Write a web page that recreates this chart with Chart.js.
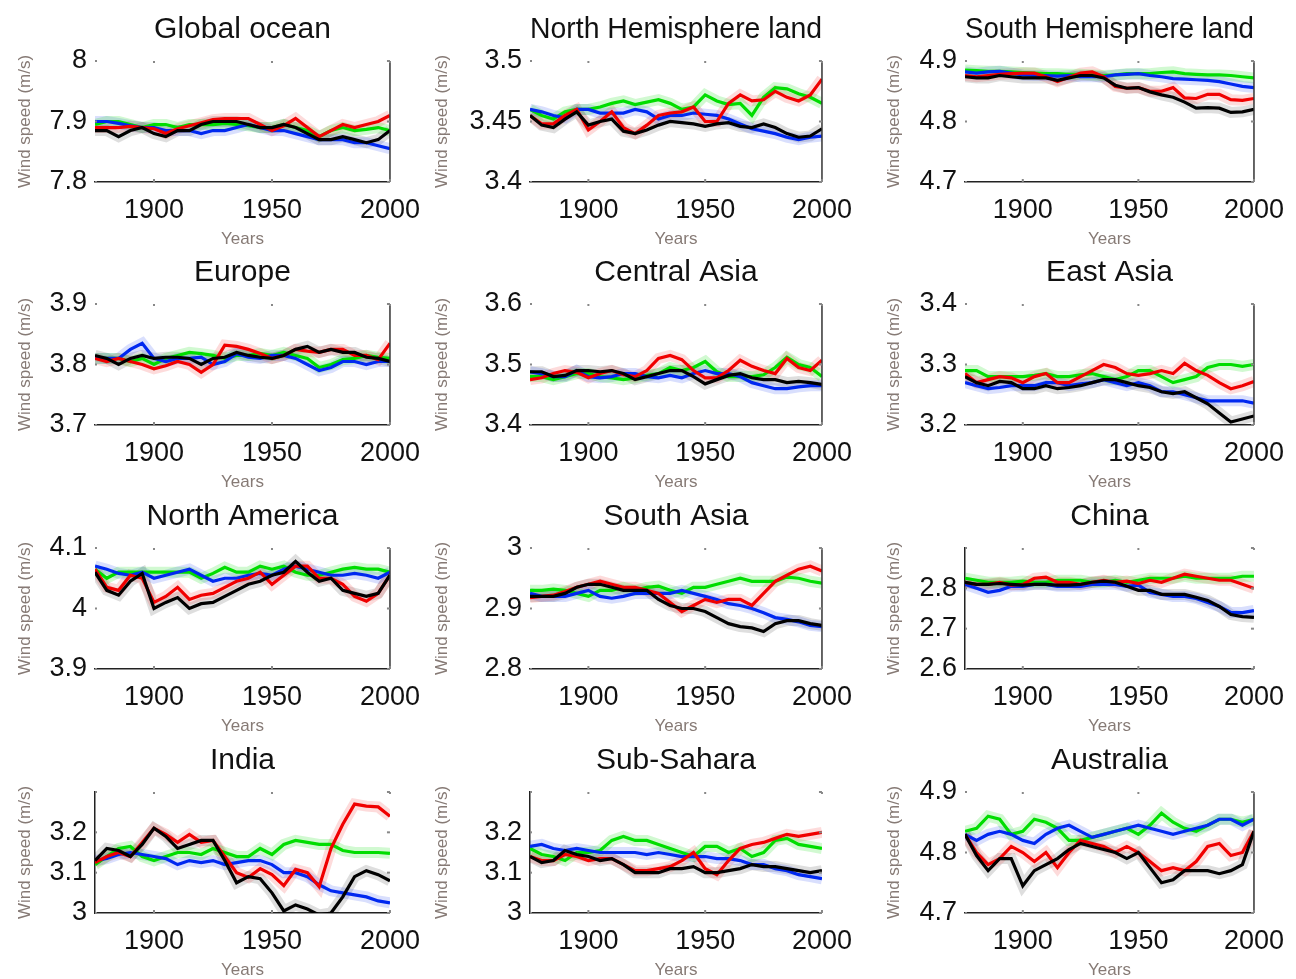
<!DOCTYPE html>
<html>
<head>
<meta charset="utf-8">
<script src="https://cdn.jsdelivr.net/npm/chart.js@4.4.0/dist/chart.umd.min.js"></script>
<style>
  html, body { margin: 0; padding: 0; background: #fff; overflow: hidden; }
  #wrap { position: relative; width: 1296px; height: 979px; }
  .panel { position: absolute; width: 432px; height: 250px; }
</style>
</head>
<body>
<div id="wrap"></div>
<script>
// x values shared by every panel
const years = [1875, 1880, 1885, 1890, 1895, 1900, 1905, 1910, 1915, 1920, 1925, 1930, 1935,
               1940, 1945, 1950, 1955, 1960, 1965, 1970, 1975, 1980, 1985, 1990, 1995, 2000];
const xTicks = [1900, 1950, 2000];

// Global ocean
const oceanGreen = [7.895, 7.9, 7.9, 7.895, 7.89, 7.895, 7.895, 7.89, 7.895, 7.895, 7.895, 7.897, 7.895, 7.893, 7.89, 7.89, 7.895, 7.89, 7.885, 7.875, 7.885, 7.89, 7.885, 7.887, 7.89, 7.885];
const oceanBlue  = [7.9, 7.9, 7.897, 7.893, 7.89, 7.89, 7.885, 7.885, 7.885, 7.88, 7.885, 7.885, 7.89, 7.895, 7.89, 7.885, 7.885, 7.88, 7.875, 7.87, 7.87, 7.87, 7.865, 7.865, 7.86, 7.855];
const oceanRed   = [7.89, 7.89, 7.89, 7.892, 7.89, 7.888, 7.88, 7.888, 7.893, 7.898, 7.903, 7.905, 7.905, 7.905, 7.895, 7.885, 7.893, 7.905, 7.89, 7.875, 7.885, 7.895, 7.89, 7.895, 7.9, 7.91];
const oceanBlack = [7.885, 7.885, 7.875, 7.885, 7.89, 7.88, 7.875, 7.885, 7.885, 7.895, 7.9, 7.9, 7.9, 7.895, 7.89, 7.89, 7.895, 7.89, 7.88, 7.87, 7.87, 7.875, 7.87, 7.865, 7.87, 7.885];

// North Hemisphere land
const nhGreen = [3.46, 3.455, 3.452, 3.458, 3.46, 3.46, 3.462, 3.465, 3.467, 3.464, 3.466, 3.468, 3.465, 3.46, 3.462, 3.472, 3.467, 3.464, 3.465, 3.455, 3.47, 3.478, 3.477, 3.473, 3.47, 3.465];
const nhBlue  = [3.46, 3.458, 3.455, 3.453, 3.46, 3.46, 3.457, 3.457, 3.457, 3.46, 3.458, 3.452, 3.455, 3.455, 3.457, 3.456, 3.455, 3.452, 3.448, 3.444, 3.442, 3.44, 3.437, 3.435, 3.437, 3.438];
const nhRed   = [3.455, 3.448, 3.448, 3.455, 3.46, 3.443, 3.45, 3.458, 3.445, 3.44, 3.447, 3.455, 3.457, 3.458, 3.462, 3.45, 3.45, 3.465, 3.472, 3.467, 3.468, 3.475, 3.47, 3.467, 3.472, 3.485];
const nhBlack = [3.455, 3.447, 3.445, 3.452, 3.458, 3.447, 3.45, 3.452, 3.442, 3.44, 3.443, 3.447, 3.45, 3.449, 3.448, 3.446, 3.448, 3.449, 3.446, 3.445, 3.448, 3.445, 3.44, 3.437, 3.438, 3.444];

// South Hemisphere land
const shGreen = [4.885, 4.884, 4.883, 4.883, 4.882, 4.881, 4.88, 4.879, 4.879, 4.878, 4.878, 4.877, 4.876, 4.877, 4.879, 4.879, 4.879, 4.881, 4.882, 4.879, 4.878, 4.877, 4.877, 4.876, 4.874, 4.872];
const shBlue  = [4.882, 4.88, 4.882, 4.883, 4.88, 4.877, 4.876, 4.876, 4.875, 4.876, 4.874, 4.874, 4.874, 4.877, 4.878, 4.879, 4.876, 4.874, 4.871, 4.87, 4.869, 4.868, 4.866, 4.862, 4.858, 4.856];
const shRed   = [4.876, 4.874, 4.876, 4.878, 4.879, 4.88, 4.88, 4.874, 4.866, 4.873, 4.88, 4.882, 4.874, 4.858, 4.855, 4.856, 4.85, 4.85, 4.856, 4.839, 4.838, 4.845, 4.845, 4.836, 4.835, 4.838];
const shBlack = [4.874, 4.872, 4.872, 4.876, 4.874, 4.872, 4.872, 4.872, 4.868, 4.872, 4.876, 4.876, 4.872, 4.86, 4.855, 4.856, 4.849, 4.844, 4.84, 4.832, 4.822, 4.823, 4.822, 4.815, 4.816, 4.82];

// Europe
const euGreen = [3.81, 3.81, 3.81, 3.805, 3.81, 3.8, 3.81, 3.815, 3.82, 3.818, 3.815, 3.81, 3.815, 3.815, 3.818, 3.815, 3.82, 3.815, 3.81, 3.795, 3.8, 3.808, 3.81, 3.815, 3.812, 3.81];
const euBlue  = [3.81, 3.81, 3.81, 3.825, 3.835, 3.81, 3.805, 3.81, 3.81, 3.812, 3.8, 3.805, 3.818, 3.812, 3.81, 3.815, 3.815, 3.81, 3.8, 3.79, 3.795, 3.805, 3.805, 3.8, 3.805, 3.805];
const euRed   = [3.81, 3.805, 3.81, 3.805, 3.8, 3.793, 3.798, 3.805, 3.8, 3.787, 3.8, 3.832, 3.83, 3.825, 3.818, 3.81, 3.815, 3.825, 3.822, 3.82, 3.825, 3.825, 3.815, 3.815, 3.808, 3.835];
const euBlack = [3.815, 3.81, 3.8, 3.81, 3.815, 3.81, 3.812, 3.812, 3.81, 3.8, 3.81, 3.812, 3.82, 3.815, 3.812, 3.81, 3.815, 3.825, 3.83, 3.82, 3.825, 3.82, 3.82, 3.812, 3.81, 3.805];

// Central Asia
const caGreen = [3.48, 3.48, 3.475, 3.48, 3.485, 3.485, 3.48, 3.478, 3.475, 3.478, 3.482, 3.485, 3.495, 3.49, 3.495, 3.505, 3.488, 3.48, 3.48, 3.48, 3.483, 3.495, 3.512, 3.5, 3.495, 3.48];
const caBlue  = [3.488, 3.485, 3.48, 3.48, 3.49, 3.48, 3.478, 3.48, 3.485, 3.485, 3.48, 3.478, 3.482, 3.478, 3.485, 3.49, 3.485, 3.485, 3.48, 3.47, 3.465, 3.46, 3.46, 3.463, 3.465, 3.465];
const caRed   = [3.475, 3.478, 3.485, 3.49, 3.487, 3.478, 3.485, 3.49, 3.483, 3.48, 3.49, 3.51, 3.515, 3.508, 3.49, 3.478, 3.478, 3.49, 3.507, 3.497, 3.49, 3.485, 3.51, 3.495, 3.49, 3.507];
const caBlack = [3.488, 3.488, 3.48, 3.482, 3.49, 3.49, 3.488, 3.49, 3.485, 3.475, 3.48, 3.485, 3.49, 3.49, 3.48, 3.468, 3.475, 3.482, 3.485, 3.478, 3.475, 3.475, 3.47, 3.472, 3.47, 3.467];

// East Asia
const eaGreen = [3.29, 3.29, 3.28, 3.28, 3.28, 3.28, 3.282, 3.285, 3.28, 3.28, 3.283, 3.285, 3.28, 3.275, 3.28, 3.29, 3.29, 3.28, 3.27, 3.275, 3.28, 3.295, 3.3, 3.3, 3.297, 3.3];
const eaBlue  = [3.27, 3.265, 3.26, 3.262, 3.265, 3.265, 3.265, 3.27, 3.27, 3.265, 3.268, 3.27, 3.275, 3.27, 3.265, 3.27, 3.265, 3.255, 3.255, 3.25, 3.245, 3.24, 3.24, 3.24, 3.24, 3.236];
const eaRed   = [3.285, 3.27, 3.275, 3.28, 3.278, 3.27, 3.28, 3.285, 3.27, 3.27, 3.28, 3.29, 3.3, 3.295, 3.285, 3.282, 3.285, 3.29, 3.285, 3.302, 3.29, 3.282, 3.27, 3.26, 3.265, 3.272];
const eaBlack = [3.28, 3.27, 3.265, 3.272, 3.27, 3.26, 3.26, 3.265, 3.26, 3.262, 3.265, 3.27, 3.275, 3.275, 3.27, 3.265, 3.262, 3.255, 3.252, 3.255, 3.245, 3.235, 3.22, 3.205, 3.21, 3.215];

// North America
const naGreen = [4.065, 4.05, 4.06, 4.06, 4.06, 4.06, 4.06, 4.06, 4.06, 4.05, 4.058, 4.068, 4.06, 4.06, 4.07, 4.065, 4.07, 4.06, 4.055, 4.055, 4.06, 4.065, 4.068, 4.065, 4.065, 4.06];
const naBlue  = [4.07, 4.065, 4.058, 4.055, 4.06, 4.05, 4.055, 4.06, 4.065, 4.055, 4.045, 4.05, 4.05, 4.055, 4.058, 4.055, 4.065, 4.07, 4.065, 4.06, 4.055, 4.055, 4.058, 4.055, 4.05, 4.06];
const naRed   = [4.065, 4.035, 4.03, 4.055, 4.05, 4.01, 4.02, 4.035, 4.015, 4.022, 4.025, 4.035, 4.045, 4.05, 4.06, 4.04, 4.055, 4.07, 4.07, 4.05, 4.05, 4.04, 4.02, 4.012, 4.025, 4.055];
const naBlack = [4.06, 4.03, 4.022, 4.045, 4.058, 4.0, 4.01, 4.018, 4.0, 4.008, 4.01, 4.02, 4.03, 4.04, 4.045, 4.055, 4.06, 4.078, 4.06, 4.045, 4.05, 4.03, 4.025, 4.02, 4.025, 4.055];

// South Asia
const saGreen = [2.93, 2.93, 2.932, 2.93, 2.925, 2.92, 2.93, 2.93, 2.935, 2.93, 2.935, 2.937, 2.93, 2.925, 2.935, 2.935, 2.94, 2.945, 2.95, 2.945, 2.945, 2.945, 2.952, 2.95, 2.945, 2.942];
const saBlue  = [2.925, 2.92, 2.92, 2.92, 2.925, 2.93, 2.92, 2.917, 2.92, 2.925, 2.925, 2.925, 2.925, 2.93, 2.925, 2.92, 2.915, 2.908, 2.905, 2.9, 2.893, 2.885, 2.882, 2.878, 2.872, 2.87];
const saRed   = [2.918, 2.92, 2.922, 2.928, 2.935, 2.94, 2.945, 2.94, 2.935, 2.935, 2.93, 2.925, 2.91, 2.895, 2.905, 2.915, 2.91, 2.915, 2.915, 2.905, 2.925, 2.945, 2.955, 2.965, 2.97, 2.962];
const saBlack = [2.92, 2.92, 2.92, 2.925, 2.935, 2.94, 2.94, 2.935, 2.93, 2.93, 2.93, 2.915, 2.905, 2.9, 2.9, 2.895, 2.885, 2.875, 2.87, 2.868, 2.862, 2.875, 2.88, 2.88, 2.875, 2.872];

// China
const cnGreen = [2.825, 2.82, 2.815, 2.815, 2.815, 2.818, 2.815, 2.815, 2.82, 2.82, 2.82, 2.815, 2.815, 2.82, 2.815, 2.82, 2.825, 2.825, 2.825, 2.83, 2.825, 2.825, 2.825, 2.825, 2.83, 2.83];
const cnBlue  = [2.81, 2.8, 2.79, 2.795, 2.805, 2.805, 2.81, 2.81, 2.805, 2.805, 2.805, 2.81, 2.81, 2.81, 2.805, 2.808, 2.79, 2.785, 2.78, 2.78, 2.775, 2.765, 2.755, 2.74, 2.74, 2.745];
const cnRed   = [2.815, 2.81, 2.81, 2.815, 2.808, 2.81, 2.825, 2.828, 2.815, 2.815, 2.81, 2.815, 2.82, 2.815, 2.818, 2.812, 2.82, 2.815, 2.825, 2.835, 2.83, 2.825, 2.82, 2.82, 2.81, 2.8];
const cnBlack = [2.815, 2.81, 2.81, 2.812, 2.81, 2.808, 2.81, 2.81, 2.808, 2.808, 2.81, 2.815, 2.818, 2.815, 2.805, 2.795, 2.795, 2.785, 2.785, 2.785, 2.778, 2.77, 2.755, 2.735, 2.73, 2.728];

// India
const inGreen = [3.12, 3.14, 3.16, 3.165, 3.14, 3.13, 3.14, 3.15, 3.15, 3.145, 3.16, 3.15, 3.14, 3.14, 3.16, 3.145, 3.17, 3.18, 3.175, 3.17, 3.17, 3.155, 3.15, 3.15, 3.15, 3.148];
const inBlue  = [3.13, 3.135, 3.145, 3.15, 3.145, 3.14, 3.135, 3.12, 3.13, 3.125, 3.13, 3.12, 3.125, 3.13, 3.13, 3.12, 3.1, 3.1, 3.09, 3.07, 3.055, 3.05, 3.045, 3.04, 3.03, 3.025];
const inRed   = [3.125, 3.14, 3.15, 3.14, 3.175, 3.21, 3.195, 3.175, 3.195, 3.175, 3.18, 3.14, 3.1, 3.088, 3.11, 3.095, 3.068, 3.108, 3.1, 3.065, 3.16, 3.22, 3.27, 3.265, 3.263, 3.24];
const inBlack = [3.13, 3.16, 3.155, 3.14, 3.17, 3.21, 3.19, 3.16, 3.17, 3.18, 3.18, 3.13, 3.075, 3.09, 3.085, 3.05, 3.005, 3.02, 3.01, 2.995, 3.0, 3.04, 3.09, 3.105, 3.095, 3.08];

// Sub-Sahara
const ssGreen = [3.16, 3.145, 3.14, 3.13, 3.15, 3.15, 3.155, 3.18, 3.19, 3.18, 3.18, 3.17, 3.16, 3.15, 3.14, 3.165, 3.165, 3.15, 3.16, 3.14, 3.15, 3.18, 3.185, 3.17, 3.165, 3.16];
const ssBlue  = [3.165, 3.17, 3.16, 3.155, 3.16, 3.155, 3.15, 3.15, 3.15, 3.15, 3.145, 3.15, 3.145, 3.14, 3.14, 3.14, 3.135, 3.135, 3.13, 3.12, 3.12, 3.11, 3.105, 3.095, 3.09, 3.085];
const ssRed   = [3.14, 3.13, 3.13, 3.145, 3.14, 3.13, 3.135, 3.135, 3.12, 3.105, 3.105, 3.11, 3.115, 3.13, 3.15, 3.11, 3.095, 3.13, 3.16, 3.17, 3.175, 3.185, 3.195, 3.19, 3.195, 3.2];
const ssBlack = [3.14, 3.125, 3.13, 3.155, 3.145, 3.14, 3.13, 3.135, 3.12, 3.1, 3.1, 3.1, 3.11, 3.11, 3.115, 3.1, 3.1, 3.105, 3.11, 3.12, 3.115, 3.115, 3.11, 3.105, 3.1, 3.105];

// Australia
const auGreen = [4.835, 4.84, 4.86, 4.855, 4.83, 4.835, 4.855, 4.85, 4.84, 4.82, 4.82, 4.825, 4.83, 4.835, 4.84, 4.83, 4.845, 4.865, 4.85, 4.84, 4.835, 4.845, 4.855, 4.855, 4.85, 4.855];
const auBlue  = [4.83, 4.82, 4.83, 4.835, 4.83, 4.82, 4.815, 4.83, 4.84, 4.845, 4.835, 4.825, 4.83, 4.835, 4.84, 4.845, 4.84, 4.835, 4.83, 4.835, 4.84, 4.845, 4.855, 4.855, 4.845, 4.855];
const auRed   = [4.83, 4.8, 4.78, 4.79, 4.81, 4.8, 4.785, 4.8, 4.775, 4.8, 4.82, 4.815, 4.81, 4.8, 4.81, 4.8, 4.785, 4.77, 4.775, 4.77, 4.785, 4.81, 4.815, 4.795, 4.8, 4.835];
const auBlack = [4.83, 4.795, 4.77, 4.79, 4.79, 4.745, 4.77, 4.78, 4.79, 4.805, 4.815, 4.81, 4.805, 4.8, 4.79, 4.8, 4.775, 4.75, 4.755, 4.77, 4.77, 4.77, 4.765, 4.77, 4.78, 4.835];

const titles = ["Global ocean", "North Hemisphere land", "South Hemisphere land",
                "Europe", "Central Asia", "East Asia",
                "North America", "South Asia", "China",
                "India", "Sub-Sahara", "Australia"];
const yRanges = [[7.8, 8], [3.4, 3.5], [4.7, 4.9],
                 [3.7, 3.9], [3.4, 3.6], [3.2, 3.4],
                 [3.9, 4.1], [2.8, 3.0], [2.6, 2.9],
                 [3.0, 3.3], [3.0, 3.3], [4.7, 4.9]];
const yTickValues = [[7.8, 7.9, 8], [3.4, 3.45, 3.5], [4.7, 4.8, 4.9],
                     [3.7, 3.8, 3.9], [3.4, 3.5, 3.6], [3.2, 3.3, 3.4],
                     [3.9, 4, 4.1], [2.8, 2.9, 3], [2.6, 2.7, 2.8, 2.9],
                     [3, 3.1, 3.2, 3.3], [3, 3.1, 3.2, 3.3], [4.7, 4.8, 4.9]];
const yTickLabels = [["7.8", "7.9", "8"], ["3.4", "3.45", "3.5"], ["4.7", "4.8", "4.9"],
                     ["3.7", "3.8", "3.9"], ["3.4", "3.5", "3.6"], ["3.2", "3.3", "3.4"],
                     ["3.9", "4", "4.1"], ["2.8", "2.9", "3"], ["2.6", "2.7", "2.8", ""],
                     ["3", "3.1", "3.2", ""], ["3", "3.1", "3.2", ""], ["4.7", "4.8", "4.9"]];
const seriesByPanel = [
  [oceanGreen, oceanBlue, oceanRed, oceanBlack], [nhGreen, nhBlue, nhRed, nhBlack], [shGreen, shBlue, shRed, shBlack],
  [euGreen, euBlue, euRed, euBlack], [caGreen, caBlue, caRed, caBlack], [eaGreen, eaBlue, eaRed, eaBlack],
  [naGreen, naBlue, naRed, naBlack], [saGreen, saBlue, saRed, saBlack], [cnGreen, cnBlue, cnRed, cnBlack],
  [inGreen, inBlue, inRed, inBlack], [ssGreen, ssBlue, ssRed, ssBlack], [auGreen, auBlue, auRed, auBlack]
];

// styling / layout
const lineColors = ["#00dd00", "#0028f0", "#f00000", "#000000"];
const bandColors = ["rgba(0,220,0,0.18)", "rgba(0,40,240,0.15)", "rgba(240,0,0,0.14)", "rgba(0,0,0,0.13)"];
const leftBorder = [false, false, false, false, false, false, false, false, true, true, true, false];
const rightBorder = [true, true, true, true, true, true, true, true, false, false, false, true];
const colLeft = [95, 98, 101];
const colRight = [392, 394, 395];
const yTitlePad = [15, 0, 20];
const rowTop = [0, 243, 487, 731];

const FONT = "'Liberation Sans', Arial, Helvetica, sans-serif";
Chart.defaults.font.family = FONT;

const framePlugin = {
  id: "frame",
  afterDraw(chart, args, opts) {
    const {ctx, chartArea: a, scales: {x, y}} = chart;
    ctx.save();
    ctx.strokeStyle = "#333";
    ctx.lineWidth = 1.5;
    if (opts.right) {
      ctx.beginPath();
      ctx.moveTo(a.right, a.top);
      ctx.lineTo(a.right, a.bottom);
      ctx.stroke();
    }
    ctx.fillStyle = "#888";
    x.ticks.forEach(t => {
      const px = x.getPixelForValue(t.value);
      ctx.fillRect(px - 1, a.top, 2, 2);
      ctx.fillRect(px - 1, a.bottom - 3, 2, 3);
    });
    y.ticks.forEach(t => {
      const py = y.getPixelForValue(t.value);
      ctx.fillRect(a.left, py - 1, 2, 2);
      ctx.fillRect(a.right - 3, py - 1, 3, 2);
    });
    ctx.restore();
  }
};

const wrap = document.getElementById("wrap");

titles.forEach((title, p) => {
  const col = p % 3;
  const row = Math.floor(p / 3);
  const canvas = document.createElement("canvas");
  canvas.className = "panel";
  canvas.width = 432;
  canvas.height = 250;
  canvas.style.left = (col * 432) + "px";
  canvas.style.top = rowTop[row] + "px";
  wrap.appendChild(canvas);

  const datasets = [];
  seriesByPanel[p].forEach((vals, s) => {
    const pts = years.map((yr, i) => ({x: yr, y: vals[i]}));
    datasets.push({
      data: pts,
      borderColor: lineColors[s],
      borderWidth: 3.2,
      pointRadius: 0,
      tension: 0,
      clip: 0,
      order: 4 - s
    });
    datasets.push({
      data: pts,
      borderColor: bandColors[s],
      borderWidth: 11,
      pointRadius: 0,
      tension: 0,
      clip: 0,
      order: 20
    });
  });

  const labels = yTickLabels[p];
  const vals = yTickValues[p];

  new Chart(canvas.getContext("2d"), {
    type: "line",
    data: {datasets: datasets},
    options: {
      responsive: false,
      animation: false,
      events: [],
      layout: {padding: {left: 0, right: 432 - colRight[col], top: 0, bottom: 0}},
      plugins: {
        legend: {display: false},
        tooltip: {enabled: false},
        title: {
          display: true,
          text: title,
          fullSize: false,
          color: "#111",
          font: {size: 30, weight: "normal"},
          padding: {top: 12, bottom: 13}
        },
        frame: {right: rightBorder[p]}
      },
      scales: {
        x: {
          type: "linear",
          min: 1875,
          max: 2000,
          afterBuildTicks: s => { s.ticks = xTicks.map(v => ({value: v})); },
          afterFit: s => { s.height = 68; },
          grid: {display: false, drawTicks: false},
          border: {display: true, color: "#222", width: 1.5},
          ticks: {color: "#111", font: {size: 27}, padding: 12, autoSkip: false, maxRotation: 0,
                  callback: v => String(v)},
          title: {display: true, text: "Years", color: "#867a75", font: {size: 17},
                  padding: {top: 0, bottom: 0}}
        },
        y: {
          min: yRanges[p][0],
          max: yRanges[p][1],
          afterBuildTicks: s => { s.ticks = vals.map(v => ({value: v})); },
          afterFit: s => { s.width = colLeft[col]; },
          grid: {display: false, drawTicks: false},
          border: {display: leftBorder[p], color: "#222", width: 1.5},
          ticks: {color: "#111", font: {size: 27}, padding: 8,
                  callback: (v, i) => labels[i]},
          title: {display: true, text: "Wind speed (m/s)", color: "#867a75", font: {size: 17},
                  padding: {top: yTitlePad[col], bottom: 0}}
        }
      }
    },
    plugins: [framePlugin]
  });
});
</script>
</body>
</html>
